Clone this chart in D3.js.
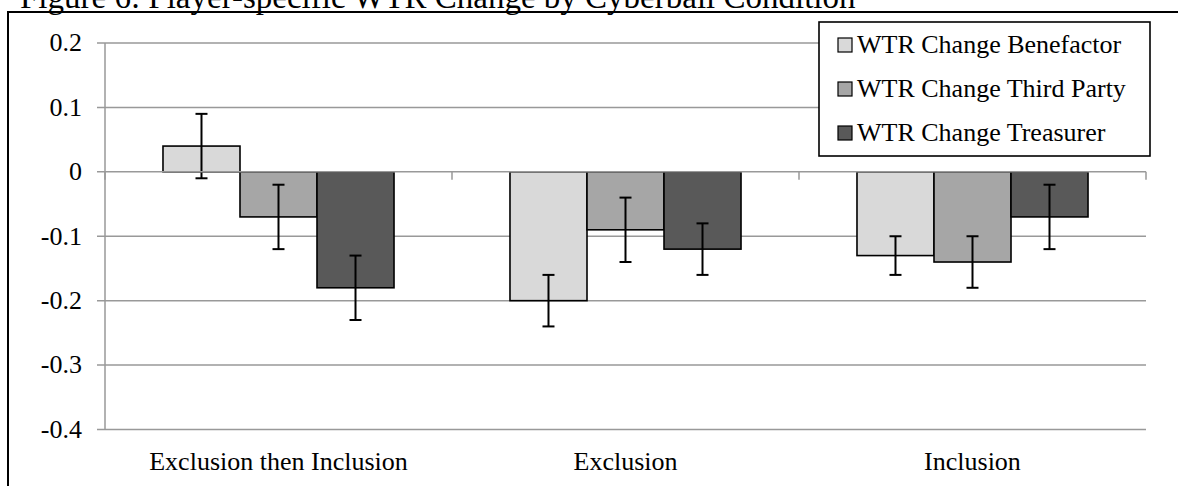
<!DOCTYPE html>
<html>
<head>
<meta charset="utf-8">
<script src="https://cdn.jsdelivr.net/npm/d3@7/dist/d3.min.js"></script>
<style>
  html, body { margin: 0; padding: 0; background: #fff; }
  svg { display: block; }
  text { font-family: "Liberation Serif", "Times New Roman", serif; fill: #000; }
</style>
</head>
<body>
<svg id="chart" width="1178" height="486"></svg>
<script>
const title = "Figure 6: Player-specific WTR Change by Cyberball Condition";
const categories = ["Exclusion then Inclusion", "Exclusion", "Inclusion"];
const seriesNames = ["WTR Change Benefactor", "WTR Change Third Party", "WTR Change Treasurer"];
const seriesColors = ["#d9d9d9", "#a6a6a6", "#595959"];
const benefactor = [0.04, -0.20, -0.13];
const thirdParty = [-0.07, -0.09, -0.14];
const treasurer = [-0.18, -0.12, -0.07];
const benefactorErr = [0.05, 0.04, 0.03];
const thirdPartyErr = [0.05, 0.05, 0.04];
const treasurerErr = [0.05, 0.04, 0.05];
const yTicks = [0.2, 0.1, 0, -0.1, -0.2, -0.3, -0.4];
const yTickLabels = ["0.2", "0.1", "0", "-0.1", "-0.2", "-0.3", "-0.4"];

const seriesValues = [benefactor, thirdParty, treasurer];
const seriesErrs = [benefactorErr, thirdPartyErr, treasurerErr];

const svg = d3.select("#chart");
const plotLeft = 105, plotRight = 1146, plotTop = 43, plotBottom = 429.5;

const x0 = d3.scaleBand().domain(categories).range([plotLeft, plotRight]).paddingInner(0).paddingOuter(0);
const x1 = d3.scaleBand().domain(seriesNames).range([0, x0.bandwidth()]).paddingInner(0).paddingOuter(0.753);
const y = d3.scaleLinear().domain([-0.4, 0.2]).range([plotBottom, plotTop]);

// title
svg.append("text").attr("x", 20).attr("y", 8).attr("font-size", 33).text(title);

// outer frame
svg.append("rect").attr("x", 8).attr("y", 12).attr("width", 1300).attr("height", 600)
  .attr("fill", "none").attr("stroke", "#000").attr("stroke-width", 2);

const gridColor = "#999";

// gridlines (except zero)
svg.append("g").selectAll("line").data(yTicks.filter(d => d !== 0)).join("line")
  .attr("x1", plotLeft - 8).attr("x2", plotRight)
  .attr("y1", d => y(d)).attr("y2", d => y(d))
  .attr("stroke", gridColor).attr("stroke-width", 1.5);

// y axis line
svg.append("line").attr("x1", plotLeft).attr("x2", plotLeft).attr("y1", y(0.2)).attr("y2", y(-0.4))
  .attr("stroke", gridColor).attr("stroke-width", 1.5);

// y tick labels
svg.append("g").selectAll("text").data(yTicks).join("text")
  .attr("x", 82).attr("y", d => y(d)).attr("dy", "0.32em")
  .attr("text-anchor", "end").attr("font-size", 26)
  .text((d, i) => yTickLabels[i]);

// bars
const groups = svg.append("g").selectAll("g").data(categories).join("g")
  .attr("transform", d => `translate(${x0(d)},0)`);

groups.each(function(cat, ci) {
  const g = d3.select(this);
  seriesNames.forEach((s, si) => {
    const v = seriesValues[si][ci];
    g.append("rect")
      .attr("x", x1(s)).attr("width", x1.bandwidth())
      .attr("y", y(Math.max(0, v))).attr("height", Math.abs(y(v) - y(0)))
      .attr("fill", seriesColors[si]).attr("stroke", "#000").attr("stroke-width", 1.6);
  });
});

// zero axis line over bars
svg.append("line").attr("x1", plotLeft - 8).attr("x2", plotRight).attr("y1", y(0)).attr("y2", y(0))
  .attr("stroke", gridColor).attr("stroke-width", 1.5);
// category tick marks
const catTicks = [plotLeft].concat(categories.map(c => x0(c) + x0.bandwidth()));
svg.append("g").selectAll("line").data(catTicks).join("line")
  .attr("x1", d => d).attr("x2", d => d).attr("y1", y(0)).attr("y2", y(0) + 8)
  .attr("stroke", gridColor).attr("stroke-width", 1.5);

// error bars
groups.each(function(cat, ci) {
  const g = d3.select(this);
  seriesNames.forEach((s, si) => {
    const v = seriesValues[si][ci], e = seriesErrs[si][ci];
    const cx = x1(s) + x1.bandwidth() / 2;
    g.append("line").attr("x1", cx).attr("x2", cx).attr("y1", y(v + e)).attr("y2", y(v - e))
      .attr("stroke", "#000").attr("stroke-width", 2);
    [v + e, v - e].forEach(t => {
      g.append("line").attr("x1", cx - 6).attr("x2", cx + 6).attr("y1", y(t)).attr("y2", y(t))
        .attr("stroke", "#000").attr("stroke-width", 2);
    });
  });
});

// x labels
svg.append("g").selectAll("text").data(categories).join("text")
  .attr("x", d => x0(d) + x0.bandwidth() / 2).attr("y", 470)
  .attr("text-anchor", "middle").attr("font-size", 26).text(d => d);

// legend
const lg = svg.append("g");
lg.append("rect").attr("x", 819).attr("y", 22).attr("width", 331).attr("height", 134)
  .attr("fill", "#fff").attr("stroke", "#000").attr("stroke-width", 1.6);
seriesNames.forEach((s, i) => {
  const cy = 45 + i * 44;
  lg.append("rect").attr("x", 838).attr("y", cy - 7).attr("width", 14).attr("height", 14)
    .attr("fill", seriesColors[i]).attr("stroke", "#000").attr("stroke-width", 1.2);
  lg.append("text").attr("x", 857).attr("y", cy + 8).attr("font-size", 26).text(s);
});
</script>
</body>
</html>
